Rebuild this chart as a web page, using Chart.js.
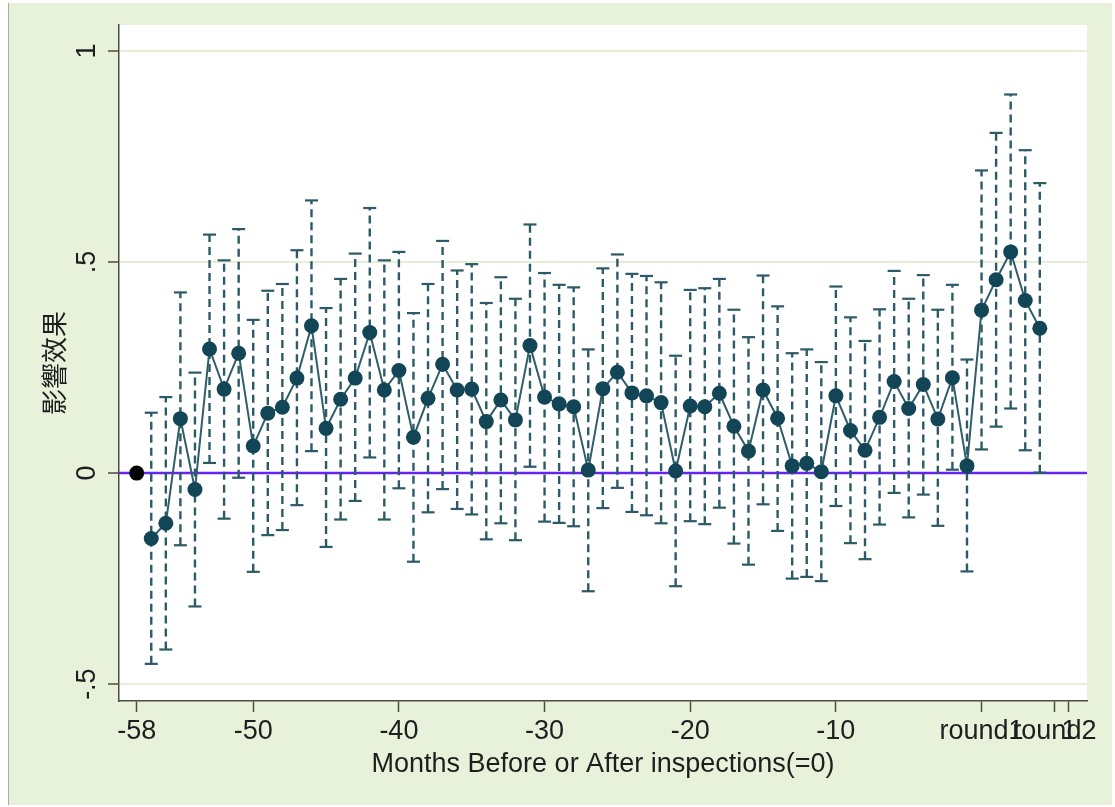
<!DOCTYPE html>
<html>
<head>
<meta charset="utf-8">
<script src="https://cdn.jsdelivr.net/npm/chart.js@4.4.1/dist/chart.umd.min.js"></script>
<style>
  body { margin: 0; background: #fff; }
  #wrap { width: 1115px; height: 807px; }
</style>
</head>
<body>
<div id="wrap"><canvas id="grafico" width="1115" height="807"></canvas></div>
<script>
// meses relativos a la inspeccion (0 = inspeccion)
const months = [-57, -56, -55, -54, -53, -52, -51, -50, -49, -48, -47, -46, -45, -44, -43, -42,
  -41, -40, -39, -38, -37, -36, -35, -34, -33, -32, -31, -30, -29, -28, -27, -26, -25, -24,
  -23, -22, -21, -20, -19, -18, -17, -16, -15, -14, -13, -12, -11, -10, -9, -8, -7, -6, -5,
  -4, -3, -2, -1, 0, 1, 2, 3, 4];

const coef = [-0.155, -0.119, 0.129, -0.039, 0.294, 0.199, 0.284, 0.064, 0.142, 0.156, 0.225,
  0.349, 0.106, 0.175, 0.225, 0.333, 0.197, 0.243, 0.085, 0.177, 0.258, 0.197, 0.199, 0.122,
  0.173, 0.126, 0.302, 0.180, 0.164, 0.157, 0.007, 0.200, 0.239, 0.190, 0.183, 0.167, 0.005,
  0.159, 0.157, 0.189, 0.111, 0.052, 0.197, 0.130, 0.017, 0.023, 0.003, 0.183, 0.101, 0.054,
  0.132, 0.217, 0.153, 0.210, 0.128, 0.226, 0.017, 0.386, 0.458, 0.524, 0.409, 0.343];

const upper = [0.143, 0.180, 0.428, 0.238, 0.565, 0.504, 0.578, 0.363, 0.432, 0.448, 0.528,
  0.646, 0.391, 0.460, 0.520, 0.628, 0.504, 0.524, 0.379, 0.448, 0.550, 0.480, 0.495, 0.403,
  0.464, 0.413, 0.589, 0.474, 0.446, 0.440, 0.293, 0.485, 0.518, 0.472, 0.467, 0.452, 0.278,
  0.434, 0.438, 0.460, 0.387, 0.322, 0.468, 0.395, 0.284, 0.293, 0.263, 0.442, 0.369, 0.313,
  0.388, 0.479, 0.413, 0.469, 0.387, 0.446, 0.269, 0.717, 0.806, 0.897, 0.765, 0.687];

const lower = [-0.452, -0.418, -0.171, -0.316, 0.024, -0.108, -0.011, -0.234, -0.147, -0.135,
  -0.076, 0.052, -0.175, -0.110, -0.066, 0.037, -0.110, -0.036, -0.210, -0.093, -0.038, -0.085,
  -0.098, -0.157, -0.119, -0.159, 0.015, -0.115, -0.118, -0.126, -0.280, -0.083, -0.035, -0.092,
  -0.100, -0.119, -0.268, -0.114, -0.121, -0.082, -0.167, -0.217, -0.074, -0.137, -0.250,
  -0.246, -0.256, -0.078, -0.166, -0.204, -0.122, -0.047, -0.105, -0.051, -0.125, 0.008,
  -0.233, 0.056, 0.110, 0.153, 0.054, 0.001];

// periodo base (omitido)
const baseMonth = [-58];
const baseValue = [0];

const xTicks = [-58, -50, -40, -30, -20, -10, 0, 5, 6];
const xTickLabels = ["-58", "-50", "-40", "-30", "-20", "-10", "round1", "round2", "1"];
const yTicks = [-0.5, 0, 0.5, 1];
const yTickLabels = ["-.5", "0", ".5", "1"];
const refLine = 0;

const VERDE = "#e8f1da";
const EJE = "#4d4d3f";
const AZUL = "#124657";
const FUENTE = "'Liberation Sans', Arial, sans-serif";

// intervalos: pares (inferior, superior) separados por null
const ciData = [];
months.forEach((m, i) => {
  ciData.push({ x: m, y: lower[i] }, { x: m, y: upper[i] }, { x: m, y: null });
});

const fondo = {
  id: "fondo",
  beforeDraw(chart) {
    const { ctx, chartArea: a } = chart;
    ctx.save();
    ctx.fillStyle = "#ffffff";
    ctx.fillRect(0, 0, chart.width, chart.height);
    ctx.fillStyle = VERDE;
    ctx.fillRect(8, 3, chart.width - 11, chart.height - 5);
    ctx.strokeStyle = "#a9b09a";
    ctx.lineWidth = 1;
    ctx.beginPath();
    ctx.moveTo(8.5, 3);
    ctx.lineTo(8.5, chart.height - 2);
    ctx.stroke();
    ctx.fillStyle = "#ffffff";
    ctx.fillRect(a.left, a.top, a.right - a.left, a.bottom - a.top);
    ctx.restore();
  },
  beforeDatasetsDraw(chart) {
    const { ctx, chartArea: a, scales } = chart;
    const y = scales.y.getPixelForValue(refLine);
    ctx.save();
    ctx.strokeStyle = "#6424f2";
    ctx.lineWidth = 2.5;
    ctx.beginPath();
    ctx.moveTo(a.left, y);
    ctx.lineTo(a.right, y);
    ctx.stroke();
    ctx.restore();
  },
};

new Chart(document.getElementById("grafico"), {
  type: "scatter",
  data: {
    datasets: [
      {
        // intervalos de confianza
        type: "line",
        data: ciData,
        borderColor: "#2c5a66",
        borderWidth: 2.4,
        borderDash: [8, 5],
        spanGaps: false,
        pointStyle: "line",
        pointRadius: 6.5,
        pointBorderWidth: 2.2,
        pointBorderColor: "#2c5a66",
        order: 3,
      },
      {
        type: "line",
        data: months.map((m, i) => ({ x: m, y: coef[i] })),
        borderColor: "#2f5d69",
        borderWidth: 2,
        backgroundColor: AZUL,
        pointBackgroundColor: AZUL,
        pointBorderColor: AZUL,
        pointRadius: 7.5,
        pointBorderWidth: 0,
        order: 2,
      },
      {
        data: baseMonth.map((m, i) => ({ x: m, y: baseValue[i] })),
        pointBackgroundColor: "#000000",
        pointBorderColor: "#000000",
        pointRadius: 7.5,
        pointBorderWidth: 0,
        order: 1,
      },
    ],
  },
  options: {
    responsive: false,
    animation: false,
    layout: { padding: { top: 25, right: 28, left: 0, bottom: 0 } },
    plugins: { legend: { display: false }, tooltip: { enabled: false } },
    scales: {
      x: {
        type: "linear",
        min: -59.215,
        max: 7.24,
        afterFit(scale) { scale.height = 106; },
        afterBuildTicks(scale) { scale.ticks = xTicks.map(v => ({ value: v })); },
        border: { display: true, color: EJE, width: 1.5 },
        grid: { drawOnChartArea: false, drawTicks: true, tickLength: 11, tickColor: EJE, tickWidth: 1.5 },
        ticks: {
          autoSkip: false,
          maxRotation: 0,
          minRotation: 0,
          padding: 3,
          color: "#1e1e1e",
          font: { family: FUENTE, size: 27 },
          callback: (v) => xTickLabels[xTicks.indexOf(v)],
        },
        title: {
          display: true,
          text: "Months Before or After inspections(=0)",
          color: "#1e1e1e",
          font: { family: FUENTE, size: 27 },
          padding: { top: 0, bottom: 26 },
        },
      },
      y: {
        type: "linear",
        min: -0.540,
        max: 1.0616,
        afterFit(scale) { scale.width = 119; },
        afterBuildTicks(scale) { scale.ticks = yTicks.map(v => ({ value: v })); },
        border: { display: true, color: EJE, width: 1.5 },
        grid: { color: "#e5efd5", lineWidth: 2, drawTicks: true, tickLength: 11, tickColor: EJE, tickWidth: 1.5 },
        ticks: {
          autoSkip: false,
          minRotation: 90,
          maxRotation: 90,
          crossAlign: "center",
          padding: 5,
          color: "#1e1e1e",
          font: { family: FUENTE, size: 27 },
          callback: (v) => yTickLabels[yTicks.indexOf(v)],
        },
        title: {
          display: true,
          text: "影響效果",
          color: "#1e1e1e",
          font: { family: "'Noto Sans CJK TC', 'Noto Sans CJK SC', sans-serif", size: 26 },
          padding: { top: 39, bottom: 0 },
        },
      },
    },
  },
  plugins: [fondo],
});
</script>
</body>
</html>
